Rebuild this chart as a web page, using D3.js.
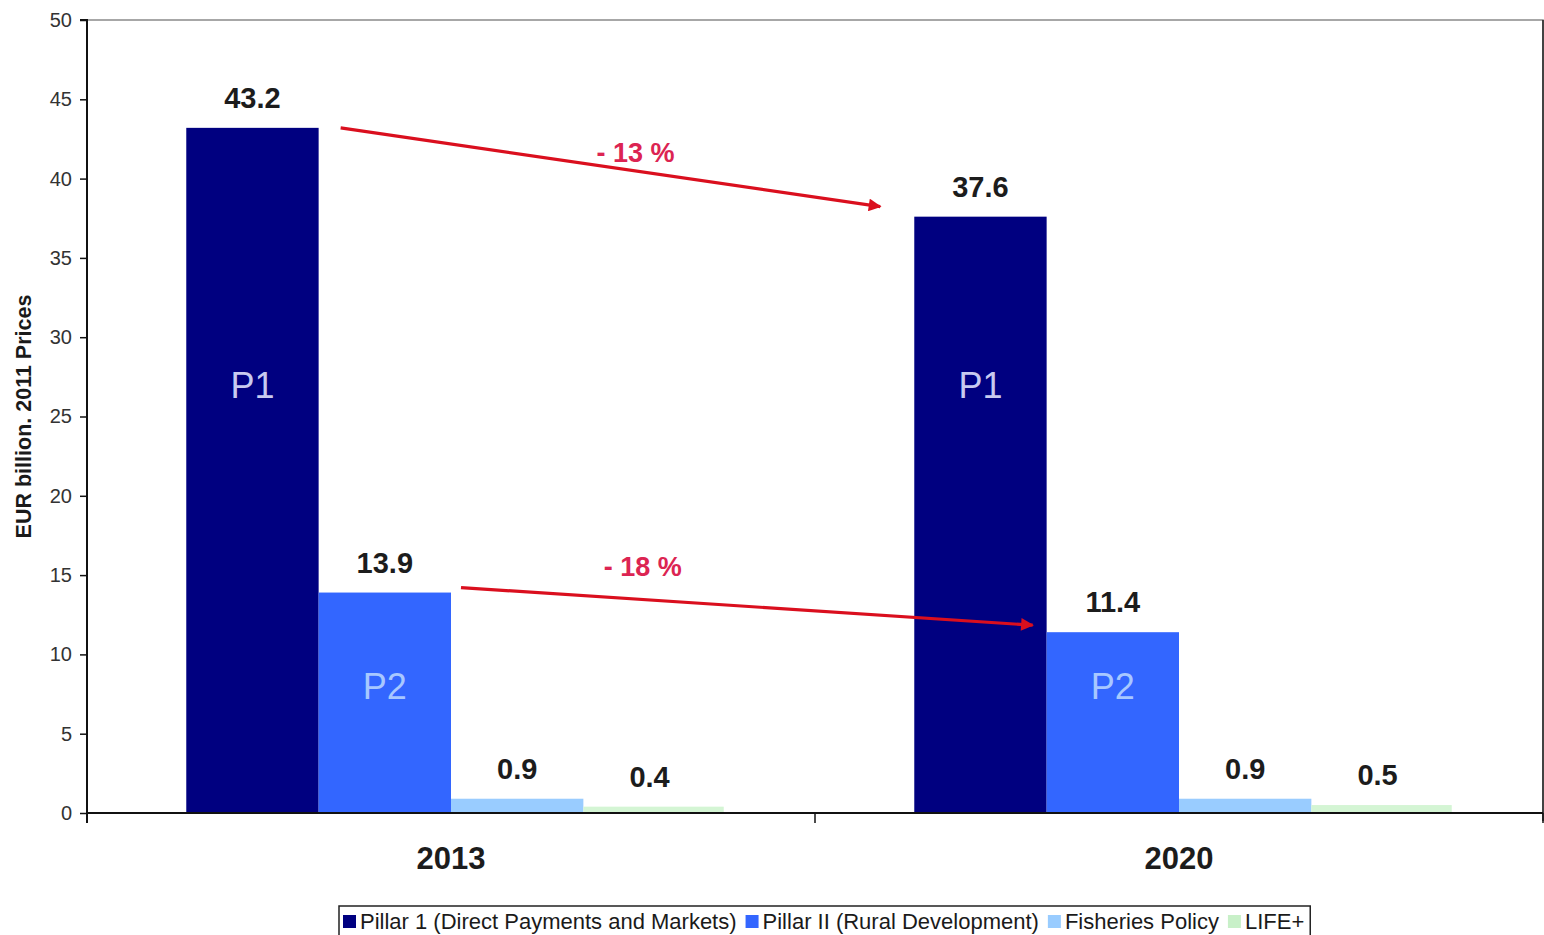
<!DOCTYPE html>
<html><head><meta charset="utf-8">
<script src="https://cdn.jsdelivr.net/npm/d3@7"></script>
<style>html,body{margin:0;padding:0;background:#fff;overflow:hidden}</style>
</head><body><svg id="c" width="1544" height="935"></svg>
<script>
const years = ["2013", "2020"];
const series = ["Pillar 1 (Direct Payments and Markets)", "Pillar II (Rural Development)", "Fisheries Policy", "LIFE+"];
const pillar1 = [43.2, 37.6];
const pillar2 = [13.9, 11.4];
const fisheries = [0.9, 0.9];
const life = [0.4, 0.5];
const valueLabels = [["43.2","37.6"],["13.9","11.4"],["0.9","0.9"],["0.4","0.5"]];
const yTicks = [0,5,10,15,20,25,30,35,40,45,50];
const changes = ["- 13 %", "- 18 %"];
const colors = ["#000080", "#3366FF", "#99CCFF", "#D4F5D4"];
const innerLabels = ["P1", "P2", null, null];
const innerLabelColors = ["#C8CAF0", "#A8C8FF"];
const innerLabelY = [27, 8];

const allSeries = [pillar1, pillar2, fisheries, life];
const svg = d3.select("#c");
const L = 87, R = 1543, T = 20, B = 813;

const y = d3.scaleLinear().domain([0, 50]).range([B, T]);
const x0 = d3.scaleBand().domain(years).range([L, R]).paddingInner(0).paddingOuter(0);
const x1 = d3.scaleBand().domain(series).range([0, x0.bandwidth()]).paddingInner(0).paddingOuter(0.75);

// plot frame
svg.append("rect").attr("x", L).attr("y", T).attr("width", R - L).attr("height", B - T)
  .attr("fill", "none").attr("stroke", "#8a8a8a").attr("stroke-width", 1.5);
svg.append("line").attr("x1", R).attr("x2", R).attr("y1", T).attr("y2", B + 8).attr("stroke", "#222").attr("stroke-width", 1.5);

// bars
years.forEach((yr, i) => {
  series.forEach((s, j) => {
    const v = allSeries[j][i];
    svg.append("rect")
      .attr("x", x0(yr) + x1(s)).attr("y", y(v))
      .attr("width", x1.bandwidth() + (j === 3 ? 8 : 0)).attr("height", B - y(v))
      .attr("fill", colors[j]);
    svg.append("text")
      .attr("x", x0(yr) + x1(s) + x1.bandwidth() / 2).attr("y", y(v) - 20)
      .attr("text-anchor", "middle").attr("font-family", "Liberation Sans, Arial, sans-serif")
      .attr("font-weight", "bold").attr("font-size", 29).attr("fill", "#1c1c1c")
      .text(valueLabels[j][i]);
    if (innerLabels[j]) {
      svg.append("text")
        .attr("x", x0(yr) + x1(s) + x1.bandwidth() / 2).attr("y", y(innerLabelY[j]) + 13)
        .attr("text-anchor", "middle").attr("font-family", "Liberation Sans, Arial, sans-serif")
        .attr("font-size", 36).attr("fill", innerLabelColors[j])
        .text(innerLabels[j]);
    }
  });
});

// y axis
const yAxis = d3.axisLeft(y).tickValues(yTicks).tickSize(7).tickPadding(8).tickFormat(d3.format("d"));
const gy = svg.append("g").attr("transform", `translate(${L},0)`).call(yAxis);
gy.select(".domain").attr("stroke", "#111").attr("stroke-width", 2).attr("d", `M-7,${T}H0V${B + 10}`);
gy.selectAll(".tick line").attr("stroke", "#111").attr("stroke-width", 1.5);
gy.selectAll(".tick text").attr("font-family", "Liberation Sans, Arial, sans-serif").attr("font-size", 20).attr("fill", "#333");

// x axis
const xAxis = d3.axisBottom(x0).tickSize(0).tickPadding(34);
const gx = svg.append("g").attr("transform", `translate(0,${B})`).call(xAxis);
gx.select(".domain").attr("stroke", "#111").attr("stroke-width", 2).attr("d", `M${L},0H${R}`);
gx.selectAll(".tick text").attr("font-family", "Liberation Sans, Arial, sans-serif").attr("font-weight", "bold")
  .attr("font-size", 31).attr("fill", "#1c1c1c").attr("dy", "0.71em");
[L, x0("2020"), R].forEach(xx => {
  svg.append("line").attr("x1", xx).attr("x2", xx).attr("y1", B).attr("y2", B + 10).attr("stroke", "#111").attr("stroke-width", 1.5);
});

// y axis title
svg.append("text").attr("transform", `translate(31,${(T + B) / 2}) rotate(-90)`)
  .attr("text-anchor", "middle").attr("font-family", "Liberation Sans, Arial, sans-serif")
  .attr("font-weight", "bold").attr("font-size", 21.5).attr("fill", "#1a1a1a")
  .text("EUR billion. 2011 Prices");

// arrows
const defs = svg.append("defs");
defs.append("marker").attr("id", "ah").attr("viewBox", "0 0 10 10").attr("refX", 9).attr("refY", 5)
  .attr("markerWidth", 4.5).attr("markerHeight", 4).attr("orient", "auto").attr("markerUnits", "strokeWidth")
  .append("path").attr("d", "M0,0L10,5L0,10z").attr("fill", "#DA0F1E");
const arrows = [
  {x1: x0("2013") + x1(series[0]) + x1.bandwidth() + 22, y1: y(pillar1[0]),
   x2: x0("2020") + x1(series[0]) - 34, y2: y(pillar1[1]) - 10, label: changes[0], dx: 25, dy: -5},
  {x1: x0("2013") + x1(series[1]) + x1.bandwidth() + 10, y1: y(pillar2[0]) - 5,
   x2: x0("2020") + x1(series[0]) + x1.bandwidth() - 14, y2: y(pillar2[1]) - 7, label: changes[1], dx: -104, dy: -30}
];
arrows.forEach(a => {
  svg.append("line").attr("x1", a.x1).attr("y1", a.y1).attr("x2", a.x2).attr("y2", a.y2)
    .attr("stroke", "#DA0F1E").attr("stroke-width", 3.2).attr("marker-end", "url(#ah)");
  svg.append("text").attr("x", (a.x1 + a.x2) / 2 + a.dx).attr("y", (a.y1 + a.y2) / 2 + a.dy)
    .attr("text-anchor", "middle").attr("font-family", "Liberation Sans, Arial, sans-serif")
    .attr("font-weight", "bold").attr("font-size", 27).attr("fill", "#DC2452")
    .text(a.label);
});

// legend
const lg = svg.append("g");
const lgX = 339, lgY = 906;
let cx = lgX + 4;
series.forEach((s, j) => {
  lg.append("rect").attr("x", cx).attr("y", lgY + 9).attr("width", 13).attr("height", 13).attr("fill", colors[j] === "#D4F5D4" ? "#C8F0C8" : colors[j]);
  const t = lg.append("text").attr("x", cx + 17).attr("y", lgY + 23)
    .attr("font-family", "Liberation Sans, Arial, sans-serif").attr("font-size", 22).attr("fill", "#1a1a1a").text(s);
  cx += 17 + t.node().getComputedTextLength() + 9;
});
lg.insert("rect", ":first-child").attr("x", lgX).attr("y", lgY).attr("width", cx - lgX - 3).attr("height", 40)
  .attr("fill", "#fff").attr("stroke", "#222").attr("stroke-width", 1.5);
</script></body></html>
